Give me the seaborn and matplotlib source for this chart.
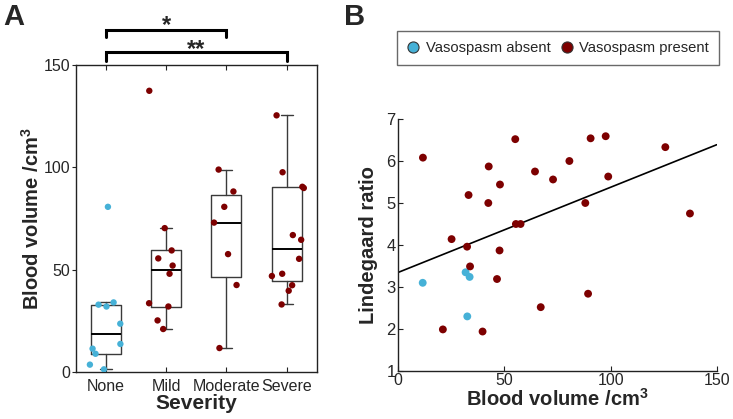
import numpy as np
import pandas as pd
import matplotlib
matplotlib.use("Agg")
import matplotlib.pyplot as plt
from matplotlib.lines import Line2D
import seaborn as sns

# ---------------- data ----------------
categories = ["None", "Mild", "Moderate", "Severe"]
none_vol = [80.7, 34.0, 32.9, 32.0, 23.6, 13.7, 11.4, 8.9, 3.6, 1.3]
mild_vol = [137.4, 70.3, 59.4, 55.5, 52.0, 48.0, 33.6, 32.0, 25.2, 21.0]
moderate_vol = [98.9, 88.2, 80.7, 73.0, 57.6, 42.5, 11.7]
severe_vol = [125.4, 97.6, 90.5, 89.9, 66.9, 64.6, 55.3, 48.0, 46.9, 42.4, 39.7, 33.0]
comparisons = [("None", "Moderate", "*"), ("None", "Severe", "**")]

absent_x = [11.5, 31.7, 33.6, 32.5]
absent_y = [3.10, 3.35, 3.24, 2.30]
present_x = [11.6, 55.1, 90.6, 97.7, 125.8, 42.6, 80.6, 64.4, 72.9, 98.9, 47.9, 33.1, 42.4,
             88.1, 137.4, 55.4, 57.6, 25.1, 32.4, 47.7, 33.8, 46.5, 89.4, 67.1, 21.0, 39.7]
present_y = [6.08, 6.52, 6.54, 6.59, 6.33, 5.87, 6.00, 5.75, 5.56, 5.63, 5.44, 5.19, 5.00,
             5.00, 4.75, 4.50, 4.50, 4.14, 3.96, 3.87, 3.49, 3.19, 2.84, 2.52, 1.99, 1.94]
legend_labels = ["Vasospasm absent", "Vasospasm present"]

CYAN = "#46b1d7"
RED = "#7d0000"

# ---------------- style ----------------
sns.set_style("white")
plt.rcParams["font.family"] = ["Liberation Sans", "DejaVu Sans"]
plt.rcParams["mathtext.fontset"] = "custom"
plt.rcParams["mathtext.rm"] = "Liberation Sans"
plt.rcParams["mathtext.bf"] = "Liberation Sans:bold"
plt.rcParams["axes.edgecolor"] = "#222222"
plt.rcParams["axes.linewidth"] = 1.0

W, H = 733, 419
fig = plt.figure(figsize=(W / 100, H / 100), dpi=100)
axA = fig.add_axes([76 / W, 1 - 372 / H, (316.7 - 76) / W, (372 - 65) / H])
axB = fig.add_axes([398.3 / W, 1 - 371 / H, (716.7 - 398.3) / W, (371 - 119) / H])

# ---------------- panel A ----------------
groups = [none_vol, mild_vol, moderate_vol, severe_vol]
dfA = pd.DataFrame({
    "Severity": np.repeat(categories, [len(g) for g in groups]),
    "Volume": np.concatenate(groups),
})
dfA["Group"] = np.where(dfA["Severity"] == "None", "absent", "present")


def box_stats(vals):
    v = np.sort(np.asarray(vals, float))
    q1, med, q3 = np.percentile(v, [25, 50, 75], method="hazen")
    iqr = q3 - q1
    lo = v[v >= q1 - 1.5 * iqr].min()
    hi = v[v <= q3 + 1.5 * iqr].max()
    return dict(med=med, q1=q1, q3=q3, whislo=lo, whishi=hi, fliers=[])


axA.bxp([box_stats(g) for g in groups], positions=range(len(categories)), widths=0.5,
        capwidths=0.2, showfliers=False, manage_ticks=False,
        boxprops=dict(color="#3a3a3a", lw=1.0),
        whiskerprops=dict(color="#3a3a3a", lw=1.0),
        capprops=dict(color="#3a3a3a", lw=1.0),
        medianprops=dict(color="black", lw=1.4))

np.random.seed(3)
sns.stripplot(data=dfA, x="Severity", y="Volume", hue="Group", order=categories,
              palette={"absent": CYAN, "present": RED}, jitter=0.3, size=4.6,
              linewidth=0, legend=False, ax=axA, zorder=3)

axA.set_xlim(-0.5, 3.5)
axA.set_ylim(0, 150)
axA.set_yticks([0, 50, 100, 150])
axA.set_xticks(range(4))
axA.set_xticklabels(categories)
axA.tick_params(axis="x", direction="in", top=True, bottom=True, length=3.5,
                labelsize=11.5, color="#222222", pad=5)
axA.tick_params(axis="y", direction="out", left=True, length=3, labelsize=11.5,
                color="#222222", pad=1)
axA.set_xlabel("Severity", fontsize=15, fontweight="bold", labelpad=0)
axA.set_ylabel(r"Blood volume /cm$^{\mathbf{3}}$", fontsize=14.5, fontweight="bold", labelpad=1)
for s in axA.spines.values():
    s.set_visible(True)

# significance brackets
levels = [167.1, 156.4]
drop = [3.4, 4.4]
star_off = [2.2, 1.4]
for (a, b, lab), yb, d, so in zip(comparisons, levels, drop, star_off):
    xa, xb = categories.index(a), categories.index(b)
    axA.plot([xa, xa, xb, xb], [yb - d, yb, yb, yb - d], color="black", lw=2.2,
             clip_on=False, solid_joinstyle="miter")
    axA.text((xa + xb) / 2, yb + so, lab, ha="center", va="center", fontsize=17,
             fontweight="bold", clip_on=False)

fig.text(3 / W, 1 - 17 / H, "A", fontsize=21, fontweight="bold", va="center", ha="left")
fig.text(344 / W, 1 - 17 / H, "B", fontsize=21, fontweight="bold", va="center", ha="left")

# ---------------- panel B ----------------
dfB = pd.DataFrame({
    "Volume": absent_x + present_x,
    "Ratio": absent_y + present_y,
    "Vasospasm": [legend_labels[0]] * len(absent_x) + [legend_labels[1]] * len(present_x),
})
axB.set_xlim(0, 150)
axB.set_ylim(1, 7)
sns.scatterplot(data=dfB, x="Volume", y="Ratio", hue="Vasospasm",
                palette={legend_labels[0]: CYAN, legend_labels[1]: RED},
                s=32, linewidth=0, legend=False, ax=axB, zorder=3)
sns.regplot(data=dfB, x="Volume", y="Ratio", scatter=False, ci=None, truncate=False,
            line_kws=dict(color="black", lw=1.2), ax=axB)
axB.set_xlim(0, 150)
axB.set_ylim(1, 7)
axB.set_xticks([0, 50, 100, 150])
axB.set_yticks(range(1, 8))
axB.tick_params(axis="y", direction="in", length=3.5, labelsize=12, color="#222222", pad=2,
                left=True)
axB.tick_params(axis="x", direction="in", length=3.5, labelsize=11.5, color="#222222", pad=1.5,
                bottom=True)
axB.spines["top"].set_visible(False)
axB.spines["right"].set_visible(False)
axB.set_xlabel(r"Blood volume /cm$^{\mathbf{3}}$", fontsize=14.5, fontweight="bold", labelpad=0)
axB.set_ylabel("Lindegaard ratio", fontsize=14.5, fontweight="bold", labelpad=6)

handles = [Line2D([], [], marker="o", ls="none", markersize=8, markerfacecolor=c,
                  markeredgecolor="#333333", markeredgewidth=0.8) for c in (CYAN, RED)]
leg = fig.legend(handles, legend_labels, loc="center", ncol=2,
                 bbox_to_anchor=(558 / W, 1 - 48 / H), fontsize=10.6, frameon=True,
                 fancybox=False, edgecolor="#444444", handletextpad=0.45,
                 columnspacing=0.71, borderpad=0.7, handlelength=0.8)
leg.get_frame().set_linewidth(1.0)

fig.savefig("out.png", dpi=100)
